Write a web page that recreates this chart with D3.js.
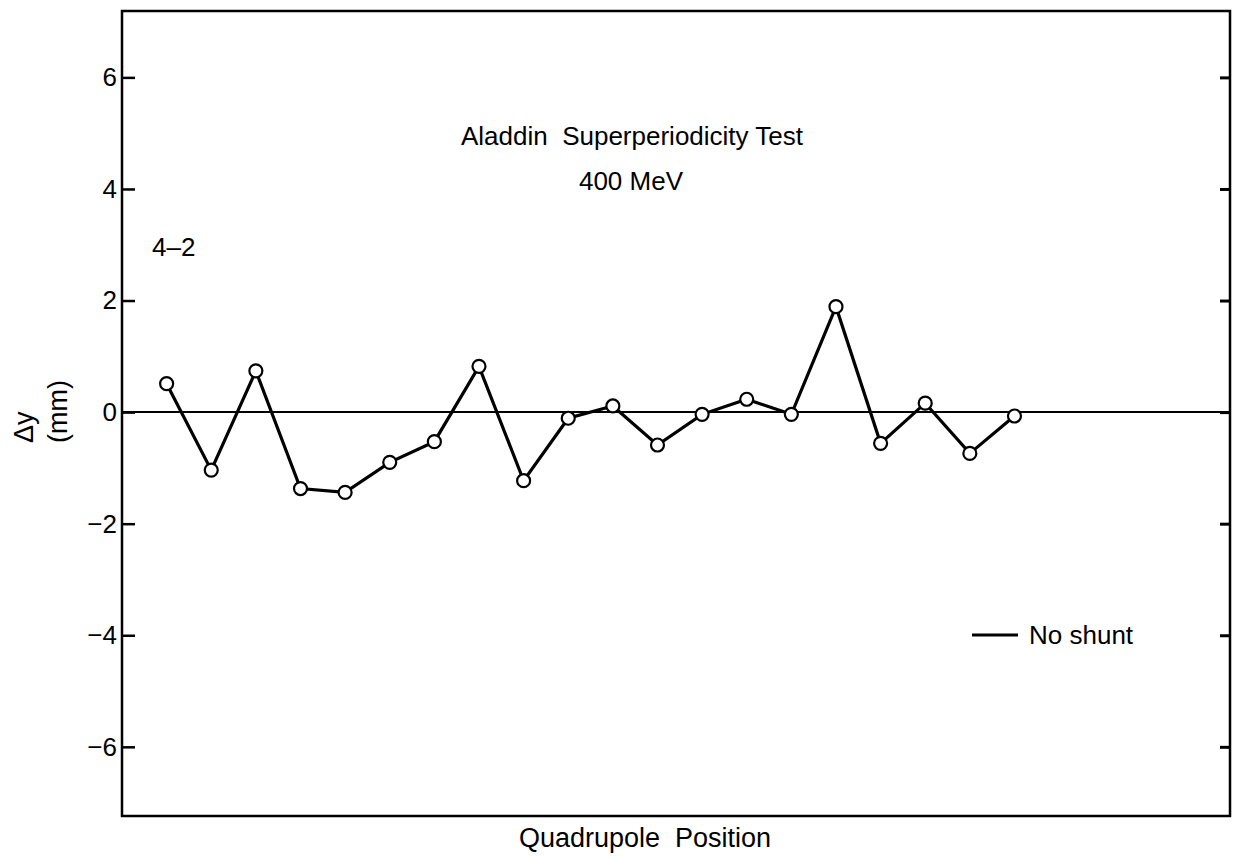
<!DOCTYPE html>
<html>
<head>
<meta charset="utf-8">
<script src="https://cdn.jsdelivr.net/npm/d3@7"></script>
<style>
  html, body { margin: 0; padding: 0; background: #fff; }
  svg { display: block; }
  text { font-family: "Liberation Sans", Arial, Helvetica, sans-serif; fill: #000; white-space: pre; }
</style>
</head>
<body>
<svg id="chart" width="1234" height="857"></svg>
<script>
// ---- Data ----
const positions = [1, 2, 3, 4, 5, 6, 7, 8, 9, 10, 11, 12, 13, 14, 15, 16, 17, 18, 19, 20];
const deltaY = [0.51, -1.04, 0.74, -1.37, -1.44, -0.90, -0.53, 0.82, -1.23, -0.11,
                0.11, -0.59, -0.04, 0.23, -0.04, 1.89, -0.56, 0.16, -0.74, -0.07];
const yTicks = [-6, -4, -2, 0, 2, 4, 6];
const titleLines = ["Aladdin  Superperiodicity Test", "400 MeV"];
const panelLabel = "4–2";
const seriesName = "No shunt";
const xLabel = "Quadrupole  Position";
const yLabelLines = ["Δy", "(mm)"];

// ---- Layout ----
const W = 1234, H = 857;
const L = 122, R = 1230, T = 11, B = 816;

const svg = d3.select("#chart");

const x = d3.scaleLinear().domain([0, 24.83]).range([L, R]);
const y = d3.scaleLinear().domain([-7.24, 7.19]).range([B, T]);

// Left axis with inward ticks
const gL = svg.append("g").attr("transform", `translate(${L},0)`)
  .call(d3.axisLeft(y).tickValues(yTicks).tickSizeInner(-13).tickSizeOuter(0).tickPadding(5)
        .tickFormat(d => d < 0 ? "\u2212" + Math.abs(d) : String(d)));
gL.select(".domain").remove();
gL.selectAll(".tick line").attr("stroke", "#000").attr("stroke-width", 2.5);
gL.selectAll(".tick text").style("font-size", "26px").attr("fill", "#000");

// Right axis with inward ticks, no labels
const gR = svg.append("g").attr("transform", `translate(${R},0)`)
  .call(d3.axisRight(y).tickValues(yTicks).tickSizeInner(-10).tickSizeOuter(0).tickFormat(""));
gR.select(".domain").remove();
gR.selectAll(".tick line").attr("stroke", "#000").attr("stroke-width", 3);

// Zero reference line
svg.append("line")
  .attr("x1", L).attr("x2", R)
  .attr("y1", y(0)).attr("y2", y(0))
  .attr("stroke", "#000").attr("stroke-width", 2);

// Frame
svg.append("rect")
  .attr("x", L).attr("y", T).attr("width", R - L).attr("height", B - T)
  .attr("fill", "none").attr("stroke", "#000").attr("stroke-width", 2.5);

// Data line
const line = d3.line().x((d, i) => x(positions[i])).y(d => y(d));
svg.append("path")
  .datum(deltaY)
  .attr("d", line)
  .attr("fill", "none").attr("stroke", "#000").attr("stroke-width", 3.2)
  .attr("stroke-linejoin", "miter");

svg.append("g").selectAll("circle")
  .data(deltaY)
  .join("circle")
  .attr("cx", (d, i) => x(positions[i]))
  .attr("cy", d => y(d))
  .attr("r", 6.5)
  .attr("fill", "#fff").attr("stroke", "#000").attr("stroke-width", 2.2);

// Title
svg.append("text").attr("x", 632).attr("y", 145).attr("text-anchor", "middle")
  .style("font-size", "26px").text(titleLines[0]);
svg.append("text").attr("x", 631).attr("y", 190).attr("text-anchor", "middle")
  .style("font-size", "26px").text(titleLines[1]);

// Panel label
svg.append("text").attr("x", 152).attr("y", 256)
  .style("font-size", "26px").text(panelLabel);

// Legend
svg.append("line").attr("x1", 972).attr("x2", 1018).attr("y1", 635).attr("y2", 635)
  .attr("stroke", "#000").attr("stroke-width", 3.2);
svg.append("text").attr("x", 1029).attr("y", 644)
  .style("font-size", "26px").text(seriesName);

// X label
svg.append("text").attr("x", 645).attr("y", 847).attr("text-anchor", "middle")
  .style("font-size", "27px").text(xLabel);

// Y label (rotated, two lines)
svg.append("text").attr("transform", "translate(33,443) rotate(-90)")
  .style("font-size", "27px").text(yLabelLines[0]);
svg.append("text").attr("transform", "translate(67,443) rotate(-90)")
  .style("font-size", "27px").text(yLabelLines[1]);
</script>
</body>
</html>
